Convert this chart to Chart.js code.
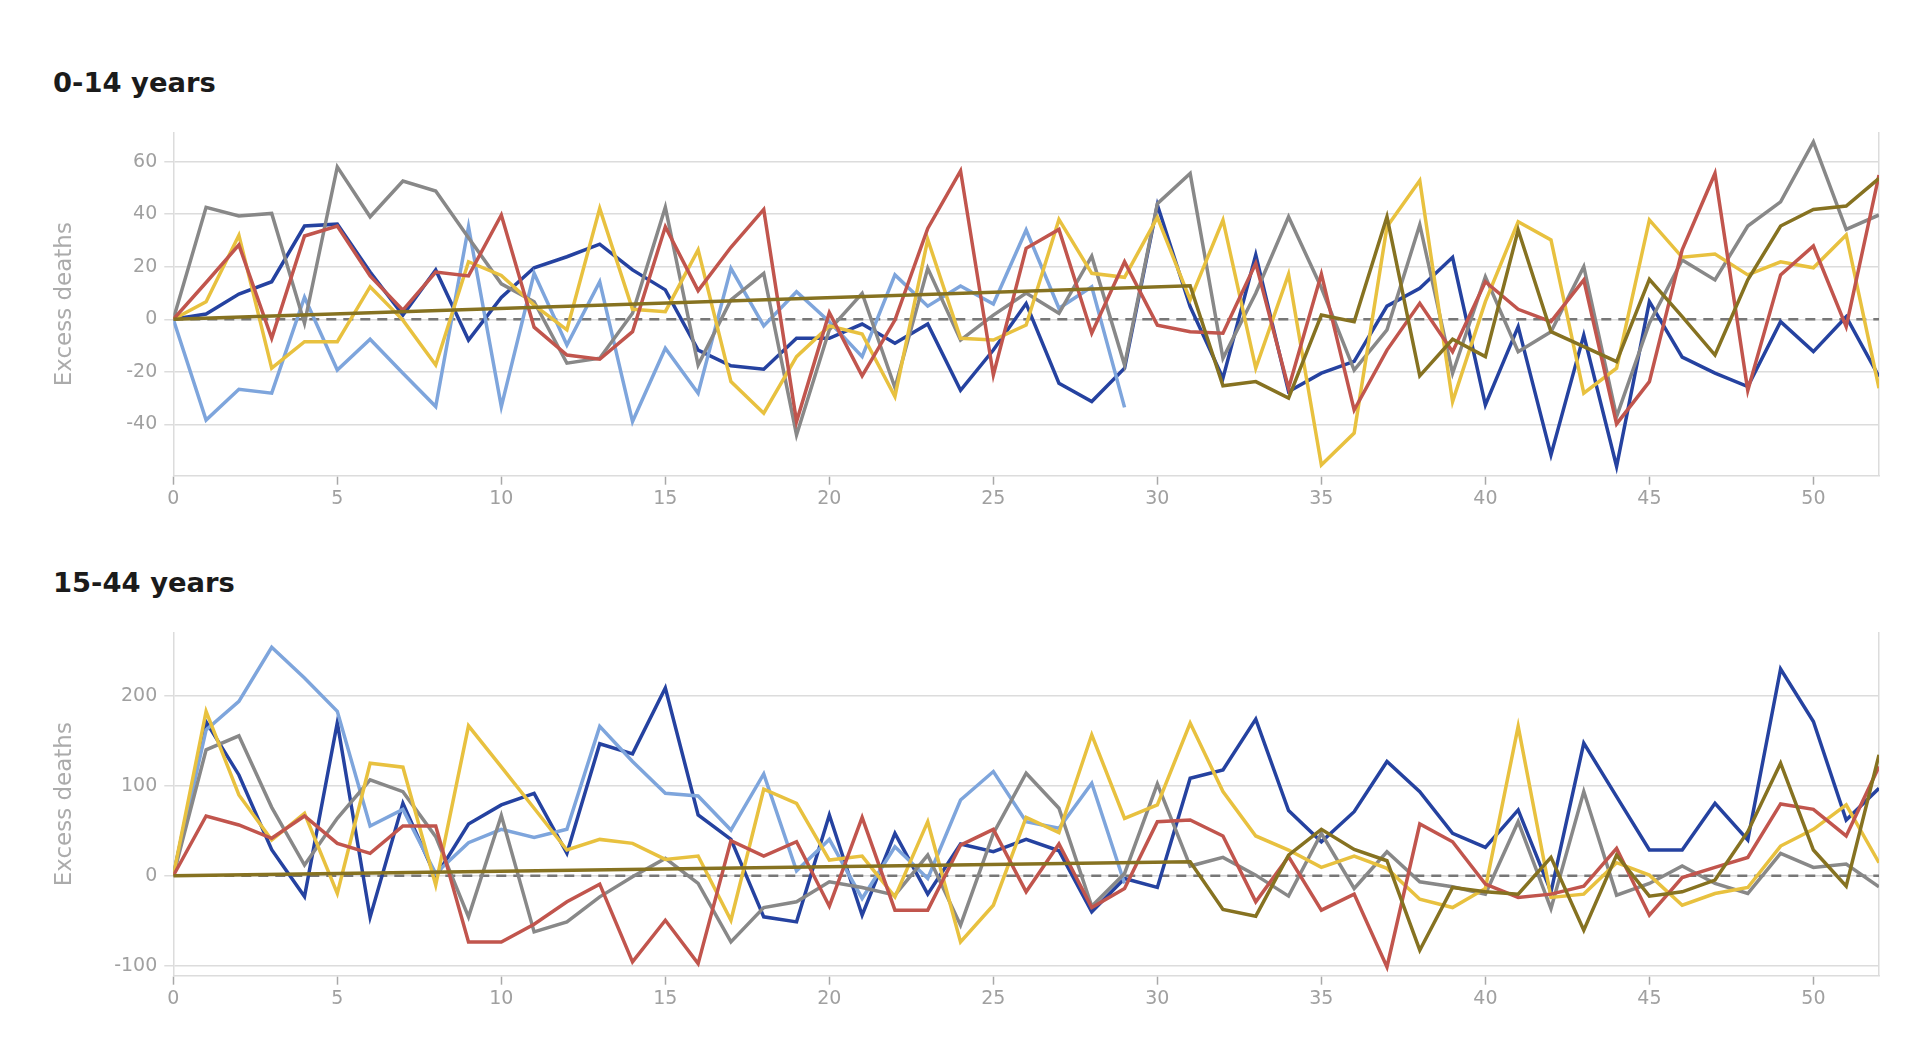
<!DOCTYPE html>
<html>
<head>
<meta charset="utf-8">
<script src="https://cdn.jsdelivr.net/npm/chart.js@4.4.1/dist/chart.umd.min.js"></script>
<style>
  body { margin: 0; background: #fff; width: 1924px; height: 1052px; overflow: hidden; position: relative; }
  h2 { position: absolute; left: 53px; margin: 0; font: 700 27.4px "DejaVu Sans", sans-serif; line-height: 27px; color: #1b1b1b; }
  canvas { position: absolute; left: 0; }
</style>
</head>
<body>
<h2 style="top:68.8px">0-14 years</h2>
<canvas id="kids" width="1924" height="420" style="top:100px"></canvas>
<h2 style="top:569.3px">15-44 years</h2>
<canvas id="adults" width="1924" height="420" style="top:600px"></canvas>

<script>
// semaines 0..52
const weeks = [0,1,2,3,4,5,6,7,8,9,10,11,12,13,14,15,16,17,18,19,20,21,22,23,24,25,26,
  27,28,29,30,31,32,33,34,35,36,37,38,39,40,41,42,43,44,45,46,47,48,49,50,51,52];

// 0-14 ans
const kidsNavy = [0, 2, 9.6, 14.3, 35.5, 36.2, 18, 1.6, 18.8, -7.9, 8.3, 19.6, 23.8, 28.6, 18.8, 11.2,
  -11.7, -17.7, -19, -7.2, -7.2, -1.8, -9.1, -1.8, -27, -11.7, 6, -24.3, -31.3, -18.6, 43.5, 4.8,
  -22.4, 24.5, -27.5, -20.5, -16, 5, 11.8, 23.6, -32.6, -2.8, -51.6, -6, -56, 6.7, -14.4, -20.5,
  -25.6, -0.9, -12.3, 1, -21.8];
const kidsSky = [0, -38.3, -26.6, -28.1, 8.4, -19.3, -7.6, -20.5, -33.2, 35.2, -33.2, 17.5, -9.8, 14.3,
  -38.9, -11, -28.1, 19.4, -2.5, 10.5, -0.9, -14.2, 16.9, 5, 12.7, 5.8, 34, 4.2, 12.4, -33.5];
const kidsGrey = [0, 42.6, 39.3, 40.3, -1.5, 58, 39, 52.6, 48.8, 31, 13.5, 6.7, -16.7, -14.8, 2.3, 42.6,
  -17.4, 7.4, 17.5, -44, -4, 9.9, -26, 19.4, -7.9, 1.6, 10, 2.3, 24, -17.4, 44, 55.5, -14.8, 9.9,
  39, 12, -19.3, -4, 36, -20.5, 16.2, -12.3, -4.7, 20, -37, -1.5, 22.6, 15, 35.5, 44.7, 67.5, 34.2, 39.7];
const kidsRed = [0, 14, 28.3, -7.2, 31.7, 35.5, 16.5, 3.5, 18, 16.5, 39.7, -3, -13.6, -15.2, -4.7, 35.2,
  10.9, 27.4, 41.8, -38.9, 2.5, -21.5, -0.3, 34.6, 56.5, -21.2, 27, 34.2, -5.3, 21.9, -2.2, -4.7,
  -5.3, 21.3, -26.2, 17.2, -34.5, -11.7, 6.1, -12.3, 14.3, 3.8, -0.9, 15, -39.8, -23.7, 26.4, 55.5,
  -27.1, 16.9, 27.9, -2.8, 54.9];
const kidsGold = [0, 6.7, 32, -18.6, -8.5, -8.5, 12.4, -0.3, -17.4, 21.9, 16.7, 5.4, -4, 42.2, 3.8, 2.9,
  26.4, -23.7, -35.7, -14.2, -2.5, -5.6, -29.4, 30.4, -7.2, -7.9, -2.2, 38, 17.5, 16, 38.8, 7.4,
  37.8, -18.6, 17.2, -55.4, -43.3, 35.2, 52.8, -31.3, 6.7, 37.1, 30.2, -28.1, -18.6, 37.8, 23.6,
  24.8, 16.9, 21.9, 19.6, 32.1, -26.2];
const kidsOlive = [0, null, null, null, null, null, null, null, null, null, null, null, null, null, null,
  null, null, null, null, null, null, null, null, null, null, null, null, null, null, null, null,
  12.8, -25.3, -23.7, -30, 1.6, -0.9, 39, -21.5, -7.6, -14.2, 34, -4.7, -10.4, -16.1, 15.2, 1,
  -13.6, 15, 35.5, 41.8, 43.1, 53.6];

// 15-44 ans
const adultNavy = [0, 171, 112, 29, -23, 170, -46, 80.5, -1, 57.5, 78.7, 91.6, 24.9, 146.6, 135.4, 208.5,
  67.5, 40.4, -45.6, -51.2, 67.5, -43.8, 47.1, -20.4, 35.3, 26.7, 40.4, 27.8, -40, -3, -13, 108.3,
  117.6, 174, 72.4, 37.8, 71.2, 127, 93.5, 47.1, 31.5, 73.1, -17.8, 147.3, 88, 28.6, 28.6, 80.5,
  39.7, 229.7, 171.4, 62, 97.2];
const adultSky = [0, 162, 193.7, 253.8, 219.7, 182.6, 55.3, 73.8, 2.6, 36.7, 51.6, 42.7, 51.6, 165.9,
  127, 91.6, 88.7, 50.8, 113.2, 5.6, 40.4, -25.2, 32.3, -3, 84.2, 115.8, 60.1, 52.7, 102.8, -8.5];
const adultGrey = [0, 139.9, 155.5, 76, 11.9, 63.8, 106.5, 93.5, 43.4, -45.6, 67, -62.3, -51.2, -23.4,
  -1.1, 19.3, -8.5, -73.5, -35.3, -28.9, -6.7, -13, -21.5, 23, -54.9, 47.1, 113.9, 75, -33.8, 2.6,
  102, 10.8, 20.4, 0.7, -22.6, 47.1, -14.1, 26.7, -6.7, -12.2, -20.4, 60.1, -36.4, 93.5, -21.5,
  -8.5, 10.8, -8.5, -19.7, 24.9, 9.3, 13, -12.2];
const adultRed = [0, 66.4, 56.4, 41.6, 66.4, 36, 24.9, 55.3, 55.3, -73.5, -73.5, -53.8, -28.9, -9.3,
  -95.7, -49.4, -97.6, 39, 21.9, 37.8, -33.8, 64.9, -38.2, -38.2, 34.1, 51.6, -17.8, 35.3, -35.3,
  -14.1, 60.1, 62, 44.2, -28.9, 21.2, -38.2, -20.4, -101.3, 57.5, 37.8, -9.3, -24.1, -20.4, -11.5,
  30.4, -43.8, -1.9, 9.3, 20.4, 79.8, 73.8, 44.2, 121.3];
const adultGold = [0, 182.6, 89.8, 39.7, 69.4, -19.7, 125, 120.6, -10.4, 166.6, 121, 75, 28.6, 40.4, 36,
  18.2, 21.9, -49.4, 96.1, 80.5, 17.4, 21.9, -23.4, 60.1, -73.5, -32.7, 64.9, 47.9, 156.6, 63.8,
  78.7, 169.6, 93.5, 44.2, 28.6, 9.3, 21.9, 8.2, -26, -35.3, -14.1, 165.9, -24.1, -20.4, 14.5, 0.7,
  -32.7, -19.7, -13, 33, 51.6, 78.7, 14.5];
const adultOlive = [0, null, null, null, null, null, null, null, null, null, null, null, null, null, null,
  null, null, null, null, null, null, null, null, null, null, null, null, null, null, null, null,
  15.6, -37.5, -44.9, 23, 51.6, 29.3, 16.7, -82.7, -13, -17.8, -20.4, 20.4, -60.5, 23, -22.6, -17.8,
  -4.8, 49, 125, 28.6, -11.5, 134.3];

// ligne de référence (0 sur toute la période)
const baseline = [{x: 0, y: 0}, {x: 52, y: 0}];

const colors = {
  navy: '#2542a0',
  sky: '#7ea5dc',
  grey: '#888888',
  red: '#c1554d',
  gold: '#e8c13f',
  olive: '#867221'
};

const tickFont = { family: 'DejaVu Sans', size: 19 };

function pts(values) {
  return values.map((v, i) => ({ x: weeks[i], y: v }));
}

function line(values, color, order) {
  return {
    data: pts(values),
    borderColor: color,
    borderWidth: 3.5,
    pointRadius: 0,
    tension: 0,
    spanGaps: true,
    order: order
  };
}

function makeChart(id, s, yMin, yMax, yStep) {
  new Chart(document.getElementById(id), {
    type: 'line',
    data: {
      datasets: [
        {
          data: baseline,
          borderColor: '#777777',
          borderWidth: 2.5,
          borderDash: [10, 7],
          pointRadius: 0,
          order: 10
        },
        line(s.navy, colors.navy, 6),
        line(s.sky, colors.sky, 5),
        line(s.grey, colors.grey, 4),
        line(s.gold, colors.gold, 3),
        line(s.red, colors.red, 2),
        line(s.olive, colors.olive, 1)
      ]
    },
    options: {
      responsive: false,
      animation: false,
      layout: { padding: { top: 32.7, left: 0, right: 0, bottom: 0 } },
      plugins: {
        legend: { display: false },
        tooltip: { enabled: false }
      },
      scales: {
        x: {
          type: 'linear',
          min: 0,
          max: 52,
          ticks: { stepSize: 5, includeBounds: false, color: '#a0a0a0', font: tickFont, padding: 3, maxRotation: 0 },
          grid: { drawOnChartArea: false, tickLength: 9, tickColor: '#a8a8a8', tickWidth: 1.5 },
          border: { color: '#dcdcdc', width: 1.5 },
          afterFit: function(scale) { scale.height = 44.3; }
        },
        y: {
          min: yMin,
          max: yMax,
          ticks: { stepSize: yStep, includeBounds: false, color: '#a0a0a0', font: tickFont, padding: 7 },
          grid: { color: '#dcdcdc', lineWidth: 1.5, tickLength: 9 },
          border: { color: '#dcdcdc', width: 1.5 },
          title: {
            display: true,
            text: 'Excess deaths',
            color: '#ababab',
            font: { family: 'DejaVu Sans', size: 23 },
            padding: { top: 51, bottom: 0 }
          },
          afterFit: function(scale) { scale.width = 173.3; }
        },
        y2: {
          position: 'right',
          min: yMin,
          max: yMax,
          ticks: { display: false },
          grid: { drawOnChartArea: false, drawTicks: false },
          border: { color: '#dcdcdc', width: 1.5 },
          afterFit: function(scale) { scale.width = 45; }
        }
      }
    }
  });
}

makeChart('kids', {
  navy: kidsNavy, sky: kidsSky, grey: kidsGrey, red: kidsRed, gold: kidsGold, olive: kidsOlive
}, -59.5, 71, 20);

makeChart('adults', {
  navy: adultNavy, sky: adultSky, grey: adultGrey, red: adultRed, gold: adultGold, olive: adultOlive
}, -111, 270, 100);
</script>
</body>
</html>
